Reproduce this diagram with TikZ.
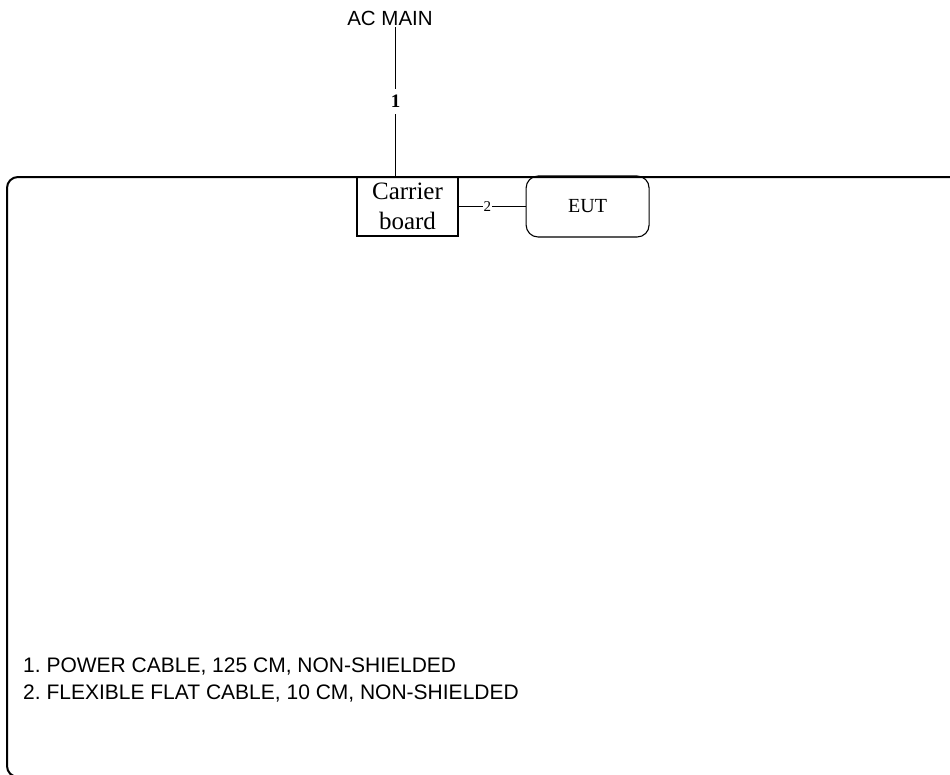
\documentclass[tikz,border=0pt]{standalone}
\usepackage{fontspec}
\setmainfont{Liberation Serif}
\setsansfont{Liberation Sans}
\usetikzlibrary{positioning}
\frenchspacing

\begin{document}
\begin{tikzpicture}[
  x=1pt, y=-1pt, every node/.style={inner sep=0pt},
  board/.style={draw, line width=1.1pt, minimum width=101pt, minimum height=59pt,
    align=center, font=\fontsize{25}{30}\selectfont},
  eut/.style={draw, rounded corners=12pt, line width=1.1pt, minimum width=123pt,
    minimum height=61pt, font=\fontsize{20}{24}\selectfont},
  cable/.style={line width=0.9pt},
  cablenum/.style={fill=white, inner xsep=1pt, inner ysep=1pt, font=\fontsize{15}{18}\selectfont},
  feednum/.style={fill=white, inner xsep=1pt, inner ysep=6pt, font=\bfseries\fontsize{19}{22}\selectfont},
  note/.style={font=\sffamily\fontsize{21}{27}\selectfont, align=left, anchor=north west}
]
  \useasboundingbox (0,0) rectangle (950,774);
  \clip (0,0) rectangle (950,774);

  % Table outline
  \draw[line width=2pt, rounded corners=11pt] (7,177) rectangle (980,777);

  % AC mains
  \node[font=\sffamily\fontsize{20.5}{24}\selectfont, anchor=base] (ac) at (390,25) {AC MAIN};
  \coordinate (acfeed) at (395.5,27);

  % Carrier board and EUT
  \node[board] (carrier) at (407.5,206.5) {Carrier\\board};
  \node[eut, right=67pt of carrier] (eut) {EUT};

  % Cables
  \draw[cable] (acfeed) -- (acfeed |- carrier.north) node[feednum, midway] {1};
  \draw[cable] (carrier) -- (eut) node[cablenum, pos=0.43] {2};

  % Cable list
  \node[note] (notes) at (23,658) {1. POWER CABLE, 125 CM, NON-SHIELDED\\
    2. FLEXIBLE FLAT CABLE, 10 CM, NON-SHIELDED};
\end{tikzpicture}
\end{document}
